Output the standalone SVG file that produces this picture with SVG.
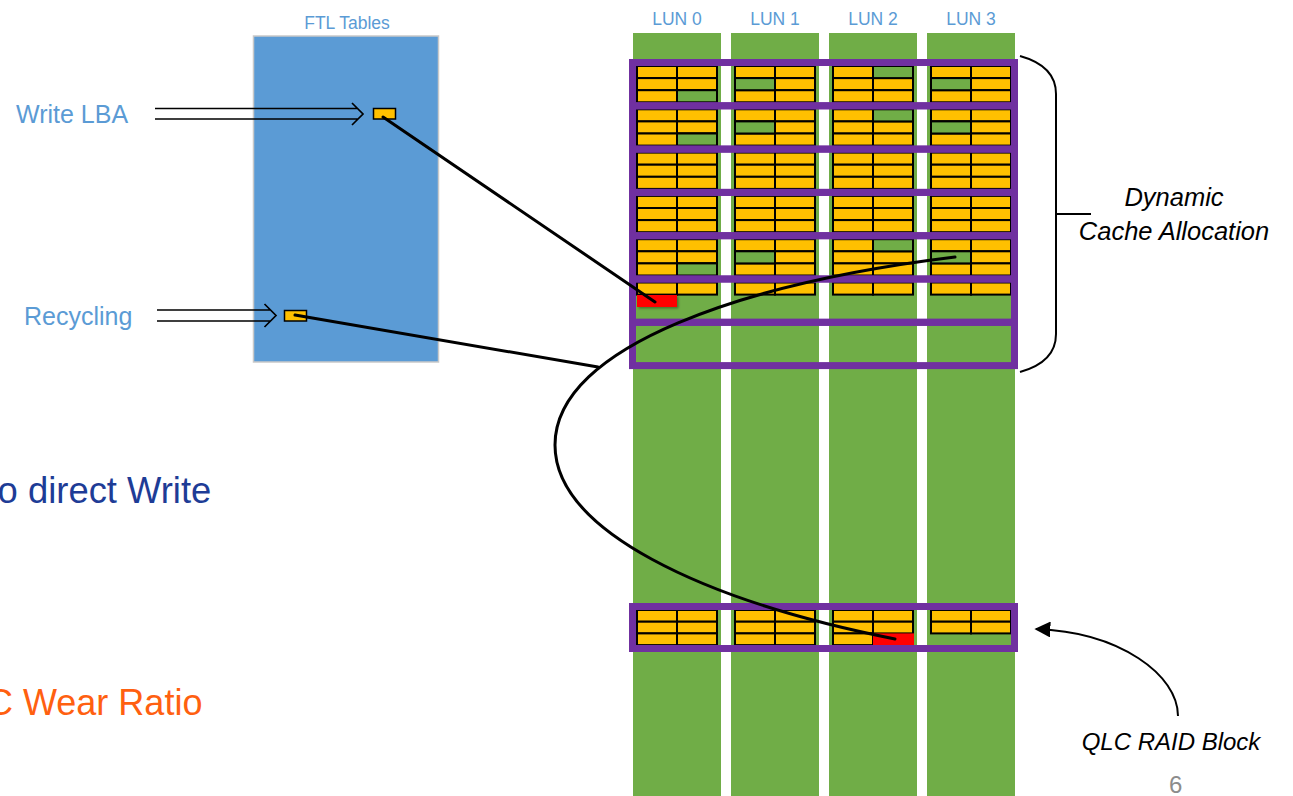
<svg xmlns="http://www.w3.org/2000/svg" xmlns:xlink="http://www.w3.org/1999/xlink" width="1293" height="796" viewBox="0 0 1293 796">
<style>
.lbl{font-family:"Liberation Sans",Arial,sans-serif;fill:#5B9BD5}
.it{font-family:"Liberation Sans",Arial,sans-serif;font-style:italic;fill:#000}
.col{fill:#70AD47}
.c{fill:#FFC000;stroke:#000;stroke-width:2}
.g{fill:#70AD47;stroke:#000;stroke-width:2}
.red{fill:#FF0000}
.pf{fill:none;stroke:#7030A0;stroke-width:7}
.ln{fill:none;stroke:#000;stroke-width:3;stroke-linecap:round}
.thin{fill:none;stroke:#000;stroke-width:1.7}
</style>
<defs>
<g id="row-plain">
<rect class="c" x="637" y="0" width="40" height="12.1"/><rect class="c" x="677" y="0" width="40" height="12.1"/>
<rect class="c" x="637" y="12.1" width="40" height="12.1"/><rect class="c" x="677" y="12.1" width="40" height="12.1"/>
<rect class="c" x="637" y="24.2" width="40" height="12.1"/><rect class="c" x="677" y="24.2" width="40" height="12.1"/>
<rect class="c" x="735" y="0" width="40" height="12.1"/><rect class="c" x="775" y="0" width="40" height="12.1"/>
<rect class="c" x="735" y="12.1" width="40" height="12.1"/><rect class="c" x="775" y="12.1" width="40" height="12.1"/>
<rect class="c" x="735" y="24.2" width="40" height="12.1"/><rect class="c" x="775" y="24.2" width="40" height="12.1"/>
<rect class="c" x="833" y="0" width="40" height="12.1"/><rect class="c" x="873" y="0" width="40" height="12.1"/>
<rect class="c" x="833" y="12.1" width="40" height="12.1"/><rect class="c" x="873" y="12.1" width="40" height="12.1"/>
<rect class="c" x="833" y="24.2" width="40" height="12.1"/><rect class="c" x="873" y="24.2" width="40" height="12.1"/>
<rect class="c" x="931" y="0" width="40" height="12.1"/><rect class="c" x="971" y="0" width="40" height="12.1"/>
<rect class="c" x="931" y="12.1" width="40" height="12.1"/><rect class="c" x="971" y="12.1" width="40" height="12.1"/>
<rect class="c" x="931" y="24.2" width="40" height="12.1"/><rect class="c" x="971" y="24.2" width="40" height="12.1"/>
</g>
<g id="row-mixed">
<use xlink:href="#row-plain"/>
<rect class="g" x="677" y="24.2" width="40" height="12.1"/>
<rect class="g" x="735" y="12.1" width="40" height="12.1"/>
<rect class="g" x="873" y="0" width="40" height="12.1"/>
<rect class="g" x="931" y="12.1" width="40" height="12.1"/>
</g>
<marker id="tri" viewBox="0 0 10 10" refX="9" refY="5" markerWidth="8" markerHeight="8" orient="auto">
<path d="M0,0 L10,5 L0,10 Z" fill="#000"/>
</marker>
<filter id="sh" x="-20%" y="-30%" width="150%" height="180%">
<feDropShadow dx="1.5" dy="1.5" stdDeviation="1.2" flood-color="#000" flood-opacity="0.35"/>
</filter>
</defs>

<g id="lun-columns">
<rect class="col" x="633" y="33" width="88" height="763"/>
<rect class="col" x="731" y="33" width="88" height="763"/>
<rect class="col" x="829" y="33" width="88" height="763"/>
<rect class="col" x="927" y="33" width="88" height="763"/>
<text class="lbl" x="677" y="25" font-size="17.5" text-anchor="middle">LUN 0</text>
<text class="lbl" x="775" y="25" font-size="17.5" text-anchor="middle">LUN 1</text>
<text class="lbl" x="873" y="25" font-size="17.5" text-anchor="middle">LUN 2</text>
<text class="lbl" x="971" y="25" font-size="17.5" text-anchor="middle">LUN 3</text>
</g>

<g id="cache-block">
<use xlink:href="#row-mixed" transform="translate(0,66)"/>
<use xlink:href="#row-mixed" transform="translate(0,109.3)"/>
<use xlink:href="#row-plain" transform="translate(0,152.6)"/>
<use xlink:href="#row-plain" transform="translate(0,195.9)"/>
<use xlink:href="#row-mixed" transform="translate(0,239.2)"/>
<rect class="c" x="637" y="282.5" width="40" height="12.1"/><rect class="c" x="677" y="282.5" width="40" height="12.1"/>
<rect class="c" x="735" y="282.5" width="40" height="12.1"/><rect class="c" x="775" y="282.5" width="40" height="12.1"/>
<rect class="c" x="833" y="282.5" width="40" height="12.1"/><rect class="c" x="873" y="282.5" width="40" height="12.1"/>
<rect class="c" x="931" y="282.5" width="40" height="12.1"/><rect class="c" x="971" y="282.5" width="40" height="12.1"/>
<rect class="red" x="637" y="295" width="40" height="12" filter="url(#sh)"/>
<rect class="pf" x="632.5" y="62.5" width="382" height="43.3"/>
<rect class="pf" x="632.5" y="105.8" width="382" height="43.3"/>
<rect class="pf" x="632.5" y="149.1" width="382" height="43.3"/>
<rect class="pf" x="632.5" y="192.4" width="382" height="43.3"/>
<rect class="pf" x="632.5" y="235.7" width="382" height="43.3"/>
<rect class="pf" x="632.5" y="279" width="382" height="43.3"/>
<rect class="pf" x="632.5" y="322.3" width="382" height="43.3"/>
</g>

<g id="raid-block">
<rect class="c" x="637" y="610" width="40" height="11.7"/><rect class="c" x="677" y="610" width="40" height="11.7"/>
<rect class="c" x="637" y="621.7" width="40" height="11.7"/><rect class="c" x="677" y="621.7" width="40" height="11.7"/>
<rect class="c" x="637" y="633.4" width="40" height="11.7"/><rect class="c" x="677" y="633.4" width="40" height="11.7"/>
<rect class="c" x="735" y="610" width="40" height="11.7"/><rect class="c" x="775" y="610" width="40" height="11.7"/>
<rect class="c" x="735" y="621.7" width="40" height="11.7"/><rect class="c" x="775" y="621.7" width="40" height="11.7"/>
<rect class="c" x="735" y="633.4" width="40" height="11.7"/><rect class="c" x="775" y="633.4" width="40" height="11.7"/>
<rect class="c" x="833" y="610" width="40" height="11.7"/><rect class="c" x="873" y="610" width="40" height="11.7"/>
<rect class="c" x="833" y="621.7" width="40" height="11.7"/><rect class="c" x="873" y="621.7" width="40" height="11.7"/>
<rect class="c" x="833" y="633.4" width="40" height="11.7"/>
<rect class="red" x="873" y="633.4" width="41" height="12"/>
<rect class="c" x="931" y="610" width="40" height="11.7"/><rect class="c" x="971" y="610" width="40" height="11.7"/>
<rect class="c" x="931" y="621.7" width="40" height="11.7"/><rect class="c" x="971" y="621.7" width="40" height="11.7"/>
<rect class="pf" x="632.5" y="606.5" width="382" height="42"/>
</g>

<g id="ftl-tables">
<text class="lbl" x="347" y="29" font-size="17.5" text-anchor="middle">FTL Tables</text>
<rect x="253.5" y="36" width="185" height="326" fill="#5B9BD5" stroke="#C9C9C9" stroke-width="1.5"/>
<rect x="373.5" y="108.5" width="22" height="10.5" fill="#FFC000" stroke="#000" stroke-width="1.5"/>
<rect x="284.5" y="310.5" width="22" height="10.5" fill="#FFC000" stroke="#000" stroke-width="1.5"/>
</g>

<g id="write-lba">
<text class="lbl" x="16" y="123" font-size="25">Write LBA</text>
</g>
<g id="recycling">
<text class="lbl" x="24" y="324.5" font-size="25">Recycling</text>
</g>

<g id="connectors">
<path class="thin" d="M155,108.5 H358 M155,119 H358 M352,103 L363,114 L352,125"/>
<path class="thin" d="M157,310 H270 M157,321 H270 M264.5,304 L276,315.5 L264.5,327"/>
<path class="ln" d="M383,117 L655,302"/>
<path class="ln" d="M295,315 L598,367"/>
<path class="ln" d="M955,257 C750,282 555,345 555,445 C555,530 700,600 895,639"/>
<path d="M1178,716 C1178,675 1120,632 1036,629" fill="none" stroke="#000" stroke-width="2" marker-end="url(#tri)"/>
</g>

<g id="bracket">
<path d="M1020,56 Q1056,66 1056,94 V334 Q1056,362 1020,372 M1056,214 H1091" fill="none" stroke="#000" stroke-width="2"/>
</g>

<g id="annotations">
<text class="it" x="1174" y="206" font-size="25.5" text-anchor="middle">Dynamic</text>
<text class="it" x="1174" y="240" font-size="25.5" text-anchor="middle">Cache Allocation</text>
<text class="it" x="1171" y="750" font-size="24" text-anchor="middle">QLC RAID Block</text>
<text x="1169" y="793" font-family="Liberation Sans,Arial,sans-serif" font-size="24" fill="#8C8C8C">6</text>
<text x="-2.4" y="503" font-family="Liberation Sans,Arial,sans-serif" font-size="36.4" fill="#1E3C96">o direct Write</text>
<text x="-13" y="715" font-family="Liberation Sans,Arial,sans-serif" font-size="36" fill="#FF6010">C Wear Ratio</text>
</g>
</svg>
